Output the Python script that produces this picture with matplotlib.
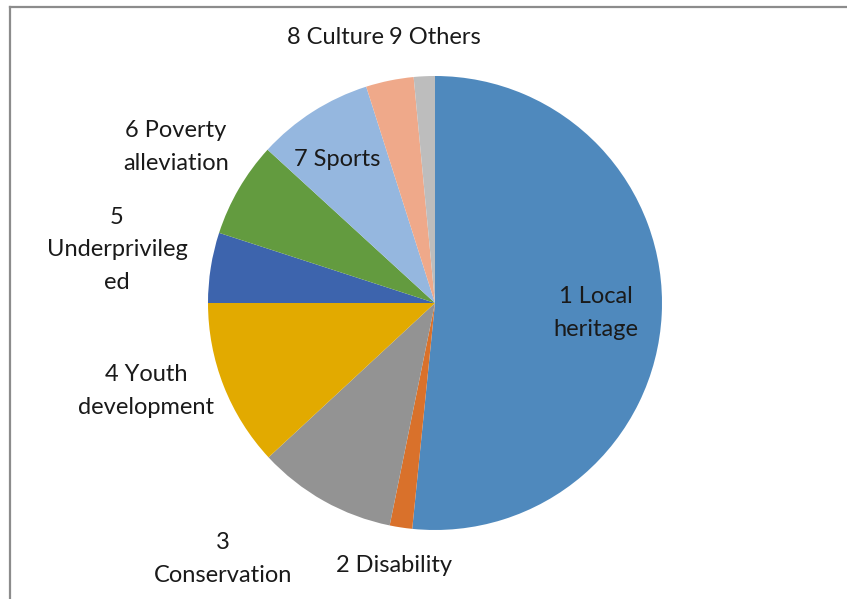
import matplotlib
matplotlib.use("Agg")
import matplotlib.pyplot as plt
from matplotlib.lines import Line2D

# Share of projects per category (percent)
categories = ["1 Local\nheritage", "2 Disability", "3\nConservation", "4 Youth\ndevelopment",
              "5\nUnderprivileg\ned", "6 Poverty\nalleviation", "7 Sports", "8 Culture", "9 Others"]
shares = [51.6, 1.6, 9.9, 11.9, 5.0, 6.8, 8.3, 3.4, 1.5]
colors = ["#4F89BD", "#D9712B", "#939393", "#E2AA00", "#3D64AD",
          "#639B3F", "#95B7DF", "#EFA98A", "#BDBDBD"]

W, H = 847, 599
cx, cy, r = 435, 303, 227

fig = plt.figure(figsize=(W / 100, H / 100), dpi=100)
ax = fig.add_axes([(cx - r) / W, (H - cy - r) / H, 2 * r / W, 2 * r / H])
ax.pie(shares, colors=colors, startangle=90, counterclock=False, radius=1,
       wedgeprops=dict(linewidth=0))
ax.set_xlim(-1, 1)
ax.set_ylim(-1, 1)
ax.axis("off")

# label positions in pixels (x, y from top)
label_pos = [(596, 313), (394, 565), (223, 559), (146, 391),
             (117, 250), (176, 147), (337, 159)]
font = dict(family="Lato", fontsize=17, color="#1a1a1a")
for text, (x, y) in zip(categories[:7], label_pos):
    fig.text(x / W, 1 - y / H, text, ha="center", va="center",
             linespacing=1.68, **font)
fig.text(384 / W, 1 - 37 / H, categories[7], ha="right", va="center", **font)
fig.text(389 / W, 1 - 37 / H, categories[8], ha="left", va="center", **font)

# chart frame, top and left edges
fig.add_artist(Line2D([9.5 / W, 1], [1 - 6.5 / H, 1 - 6.5 / H], color="#8C8C8C", lw=1.6))
fig.add_artist(Line2D([9.5 / W, 9.5 / W], [0, 1 - 6.5 / H], color="#8C8C8C", lw=1.6))

fig.savefig("out.png", dpi=100)
